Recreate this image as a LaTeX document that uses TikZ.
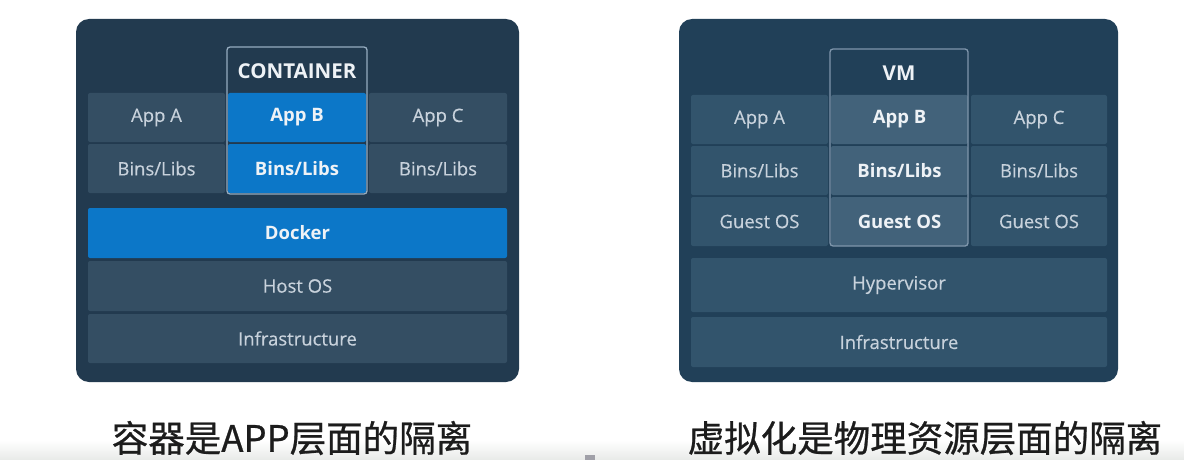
\documentclass[tikz,border=0pt]{standalone}
\usepackage{fontspec}
\setmainfont{Open Sans}
\newfontfamily\lblfont{Open Sans}[FakeBold=0.35]
\newfontfamily\cjk{Noto Sans CJK SC}[FakeBold=0.7]
\definecolor{panelL}{RGB}{34,58,79}
\definecolor{panelR}{RGB}{33,64,88}
\definecolor{cellL}{RGB}{52,78,99}
\definecolor{cellR}{RGB}{50,84,108}
\definecolor{vmcell}{RGB}{66,98,122}
\definecolor{dblue}{RGB}{12,119,200}
\definecolor{txt}{RGB}{200,210,220}
\definecolor{hitxt}{RGB}{238,242,246}
\definecolor{boxline}{RGB}{150,172,192}
\definecolor{captxt}{RGB}{28,28,28}
\definecolor{bandgray}{RGB}{232,234,232}
\definecolor{markgray}{RGB}{160,160,168}
\tikzset{
  panel/.style={rounded corners=13pt, inner sep=0pt, outer sep=0pt, anchor=north west},
  cell/.style={rounded corners=2pt, inner sep=0pt, outer sep=0pt, anchor=north west, text=txt, font=\lblfont\fontsize{18.5}{21}\selectfont},
  hicell/.style={cell, text=hitxt, font=\fontsize{18.5}{21}\selectfont\bfseries},
  frame/.style={draw=boxline, line width=1.3pt, rounded corners=3pt, inner sep=0pt, outer sep=0pt, anchor=north west},
  head/.style={text=hitxt, font=\fontsize{20.5}{22}\selectfont\bfseries, inner sep=0pt},
  caption/.style={text=captxt, font=\cjk\fontsize{36.5}{40}\selectfont, inner sep=0pt}
}
\begin{document}
\begin{tikzpicture}[x=1pt,y=-1pt]
\useasboundingbox (0,0) rectangle (1184,460);
\fill[white] (0,0) rectangle (1184,460);
\shade[top color=white, bottom color=bandgray] (0,440) rectangle (1184,460);
\fill[markgray] (585,455) rectangle (595,460);

% ---------- left panel ----------
\node[panel, fill=panelL, minimum width=443pt, minimum height=363pt] (pl) at (76,19) {};
\node[cell, fill=cellL, minimum width=137pt, minimum height=49pt] (la) at (88,93) {App A};
\node[hicell, fill=dblue, minimum width=138pt, minimum height=49pt] (lb) at (228,93) {App B};
\node[cell, fill=cellL, minimum width=138pt, minimum height=49pt] (lc) at (369,93) {App C};
\node[cell, fill=cellL, minimum width=137pt, minimum height=49pt] (lba) at (88,144) {Bins/Libs};
\node[hicell, fill=dblue, minimum width=138pt, minimum height=49pt] (lbb) at (228,144) {Bins/Libs};
\node[cell, fill=cellL, minimum width=138pt, minimum height=49pt] (lbc) at (369,144) {Bins/Libs};
\node[frame, minimum width=140pt, minimum height=147pt] (cont) at (227,47) {};
\node[head] (conth) at (297,71) {CONTAINER};
\node[hicell, fill=dblue, minimum width=419pt, minimum height=50pt] (dock) at (88,208) {Docker};
\node[cell, fill=cellL, minimum width=419pt, minimum height=50pt] (host) at (88,261) {Host OS};
\node[cell, fill=cellL, minimum width=419pt, minimum height=49pt] (infl) at (88,314) {Infrastructure};

% ---------- right panel ----------
\node[panel, fill=panelR, minimum width=439pt, minimum height=363pt] (pr) at (679,19) {};
\node[cell, fill=cellR, minimum width=137pt, minimum height=49pt] (ra) at (691,95) {App A};
\node[hicell, fill=vmcell, minimum width=137pt, minimum height=49pt] (rb) at (831,95) {App B};
\node[cell, fill=cellR, minimum width=136pt, minimum height=49pt] (rc) at (971,95) {App C};
\node[cell, fill=cellR, minimum width=137pt, minimum height=49pt] (rba) at (691,146) {Bins/Libs};
\node[hicell, fill=vmcell, minimum width=137pt, minimum height=49pt] (rbb) at (831,146) {Bins/Libs};
\node[cell, fill=cellR, minimum width=136pt, minimum height=49pt] (rbc) at (971,146) {Bins/Libs};
\node[cell, fill=cellR, minimum width=137pt, minimum height=49pt] (rga) at (691,197) {Guest OS};
\node[hicell, fill=vmcell, minimum width=137pt, minimum height=49pt] (rgb) at (831,197) {Guest OS};
\node[cell, fill=cellR, minimum width=136pt, minimum height=49pt] (rgc) at (971,197) {Guest OS};
\node[frame, draw=boxline!80!panelR, minimum width=138pt, minimum height=197pt] (vm) at (830,49) {};
\node[head] (vmh) at (899,73) {VM};
\node[cell, fill=cellR, minimum width=416pt, minimum height=54pt] (hyp) at (691,258) {Hypervisor};
\node[cell, fill=cellR, minimum width=416pt, minimum height=50pt] (infr) at (691,317) {Infrastructure};

% ---------- captions ----------
\node[caption] (capl) at (292,438) {容器是APP层面的隔离};
\node[caption] (capr) at (925,438) {虚拟化是物理资源层面的隔离};
\end{tikzpicture}
\end{document}
